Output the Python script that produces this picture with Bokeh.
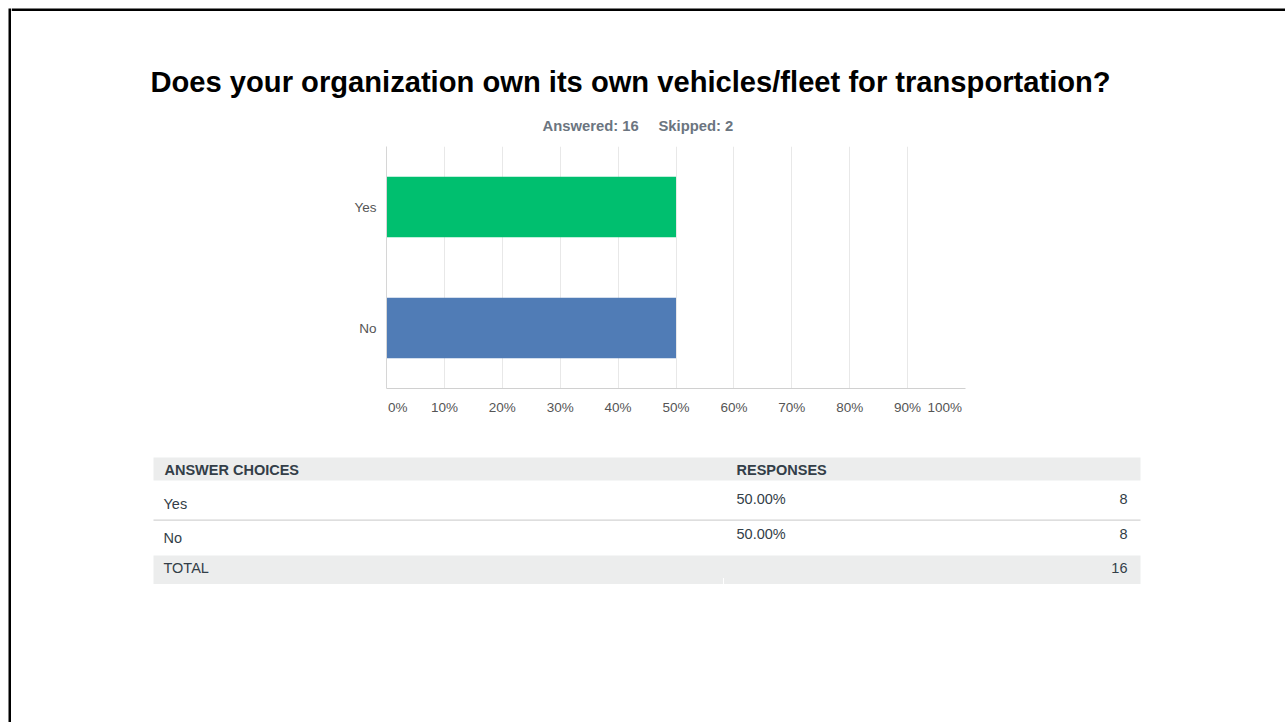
from bokeh.plotting import figure
from bokeh.models import Range1d, FactorRange, FixedTicker
from bokeh.layouts import row, column
from bokeh.core.properties import value
from bokeh.embed import file_html
from bokeh.resources import INLINE

# ---------------- data ----------------
title_text = "Does your organization own its own vehicles/fleet for transportation?"
answered = 16
skipped = 2
categories = ["Yes", "No"]
percents = [50.0, 50.0]
counts = [8, 8]
total = 16
bar_colors = ["#00BF6F", "#507CB6"]
x_ticks = [0, 10, 20, 30, 40, 50, 60, 70, 80, 90, 100]
x_tick_labels = ["0%", "10%", "20%", "30%", "40%", "50%", "60%", "70%", "80%", "90%", "100%"]
header_labels = ["ANSWER CHOICES", "RESPONSES"]
total_label = "TOTAL"

FONT = "Liberation Sans"
PAGE_W, PAGE_H = 1285, 722
LEFT_W = 11                 # strip holding the left frame line
TOP_H = 146                 # header area (title + subtitle)
CHART_H = 286               # chart area incl. tick labels
FX0, FX1 = 386, 965         # plot frame, page x
FY0, FY1 = 146, 388         # plot frame, page y


def canvas(x0, x1, y0, y1):
    """A figure whose frame covers its whole canvas, in page pixel units."""
    f = figure(width=int(x1 - x0), height=int(y1 - y0), output_backend="svg",
               toolbar_location=None, x_range=Range1d(x0, x1), y_range=Range1d(y1, y0),
               x_axis_location=None, y_axis_location=None, frame_align=False,
               min_border=0, min_border_left=0, min_border_right=0,
               min_border_top=0, min_border_bottom=0)
    f.grid.visible = False
    f.outline_line_color = None
    f.background_fill_color = "white"
    f.border_fill_color = "white"
    return f


def txt(f, s, x, y, size, bold=False, color="#333e48", align="left"):
    f.text(x=[x], y=[y], text=[s], text_font=value(FONT), text_font_size=value(size),
           text_font_style="bold" if bold else "normal", text_color=color,
           text_align=align, text_baseline="alphabetic")


# ---------- left strip with the frame line ----------
strip = canvas(0, LEFT_W, 0, PAGE_H)
strip.quad(left=[8], right=[11], top=[8], bottom=[PAGE_H], color="black", line_color=None)

# ---------- header ----------
head = canvas(LEFT_W, PAGE_W, 0, TOP_H)
head.quad(left=[LEFT_W], right=[PAGE_W], top=[8], bottom=[10.5], color="black", line_color=None)
txt(head, title_text, 150, 81.5, "29.15px", bold=True, color="black")
txt(head, f"Answered: {answered}", 542, 125, "14.8px", bold=True, color="#6b7580")
txt(head, f"Skipped: {skipped}", 658, 125, "14.8px", bold=True, color="#6b7580")

# ---------- chart ----------
p = figure(width=PAGE_W - LEFT_W, height=CHART_H, output_backend="svg", toolbar_location=None,
           x_range=Range1d(0, 100),
           y_range=FactorRange(factors=list(reversed(categories))),
           frame_align=False,
           min_border_left=FX0 - LEFT_W, min_border_right=PAGE_W - FX1,
           min_border_top=FY0 - TOP_H, min_border_bottom=TOP_H + CHART_H - FY1)
p.outline_line_color = None
p.background_fill_color = "white"
p.border_fill_color = "white"
p.hbar(y=categories, right=percents, left=0, height=0.5, color=bar_colors, line_color=None)

p.xaxis.ticker = FixedTicker(ticks=x_ticks)
overrides = {t: l for t, l in zip(x_ticks, x_tick_labels)}
overrides[x_ticks[0]] = "\u00a0" * 6 + x_tick_labels[0]
overrides[x_ticks[-1]] = x_tick_labels[-1] + "\u00a0" * 11
p.xaxis.major_label_overrides = overrides
for ax in (p.xaxis[0], p.yaxis[0]):
    ax.major_tick_line_color = None
    ax.minor_tick_line_color = None
    ax.major_tick_out = 0
    ax.major_tick_in = 0
    ax.major_label_text_font = FONT
    ax.major_label_text_font_size = "13.5px"
    ax.major_label_text_color = "#555555"
p.xaxis.axis_line_color = "#d0d0d0"
p.yaxis.axis_line_color = "#d6d6d6"
p.xaxis.major_label_standoff = 11
p.yaxis.major_label_standoff = 10
p.xgrid.ticker = FixedTicker(ticks=x_ticks)
p.xgrid.grid_line_color = "#e8e8e8"
p.ygrid.visible = False

# ---------- table ----------
T0 = TOP_H + CHART_H
tab = canvas(LEFT_W, PAGE_W, T0, PAGE_H)
TL, TR = 153, 1140
tab.quad(left=[TL, TL, TL], right=[TR, TR, TR], top=[457, 519, 555], bottom=[480, 520.2, 583.5],
         color=["#eceded", "#d3d3d3", "#eceded"], line_color=None)
tab.quad(left=[722.5], right=[723.5], top=[577.5], bottom=[583.5], color="white", line_color=None)

txt(tab, header_labels[0], 164, 469.5, "14.5px", bold=True)
txt(tab, header_labels[1], 736, 469.5, "14.5px", bold=True)

row_base = [503, 537]
row_base_right = [498.5, 533]
for cat, pct, cnt, yb, yr in zip(categories, percents, counts, row_base, row_base_right):
    txt(tab, cat, 163, yb, "14.5px")
    txt(tab, f"{pct:.2f}%", 736, yr, "14.5px")
    txt(tab, str(cnt), 1127, yr, "14.5px", align="right")

txt(tab, total_label, 163, 567.5, "14.5px")
txt(tab, str(total), 1127, 567.5, "14.5px", align="right")

layout = row(strip, column(head, p, tab, spacing=0), spacing=0)
open("out.html", "w").write(file_html(layout, INLINE))
